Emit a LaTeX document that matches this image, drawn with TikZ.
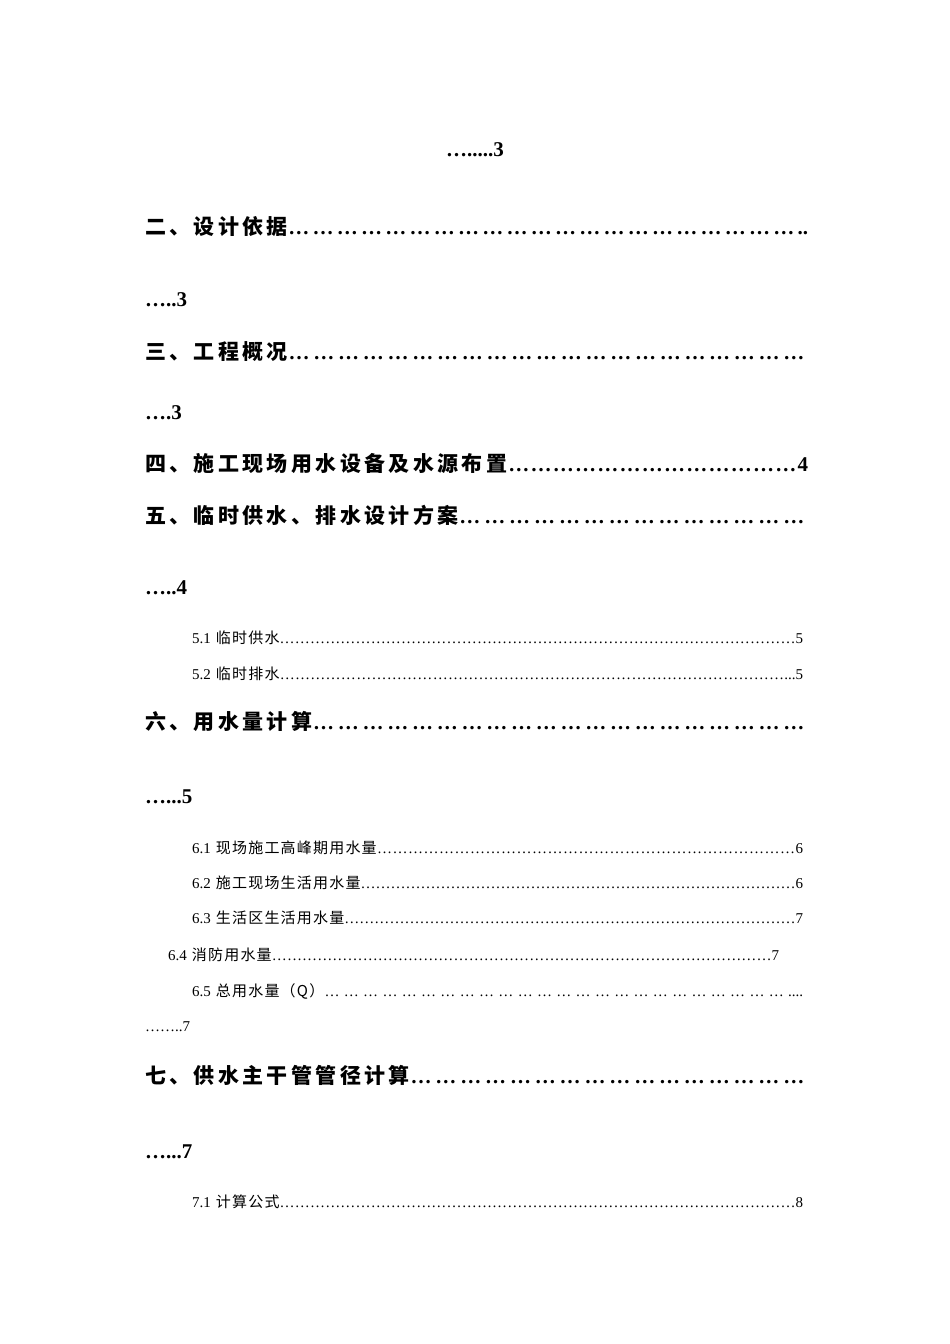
\documentclass[tikz,border=0pt]{standalone}
\usepackage{fontspec}
\setmainfont{Liberation Serif}
\newfontfamily\cjk{Noto Sans CJK SC}[LetterSpace=8]
\newfontfamily\cjkh{Noto Sans CJK SC}[LetterSpace=16]
\begin{document}
\begin{tikzpicture}[x=1pt,y=-1pt,
  big/.style={anchor=west,inner sep=0pt,font=\fontsize{21}{24}\selectfont\bfseries,text width=663pt,align=left},
  small/.style={anchor=west,inner sep=0pt,font=\fontsize{15}{18}\selectfont,align=left},
  cont/.style={anchor=west,inner sep=0pt,font=\fontsize{21}{24}\selectfont\bfseries}]
\useasboundingbox (0,0) rectangle (950,1344);
\newcommand\lead{\xleaders\hbox{…}\hfill}
\newcommand\wideleads{\xleaders\hbox{…\kern3pt}\hfill}
\node[cont,anchor=center] (c1) at (475,150) {….....3};
\node[big] (h2) at (145,226) {{\cjkh\bfseries 二、设计依据}\wideleads..\null};
\node[cont] (c2) at (145,300) {…..3};
\node[big] (h3) at (145,352) {{\cjkh\bfseries 三、工程概况}\wideleads\null};
\node[cont] (c3) at (145,413) {….3};
\node[big] (h4) at (145,464) {{\cjkh\bfseries 四、施工现场用水设备及水源布置}\lead 4};
\node[big] (h5) at (145,515) {{\cjkh\bfseries 五、临时供水、排水设计方案}\wideleads\null};
\node[cont] (c5) at (145,588) {…..4};
\node[small,text width=611pt] (s51) at (192,638) {5.1 {\cjk 临时供水}\lead 5};
\node[small,text width=611pt] (s52) at (192,674) {5.2 {\cjk 临时排水}\lead ...5};
\node[big] (h6) at (145,721) {{\cjkh\bfseries 六、用水量计算}\wideleads\null};
\node[cont] (c6) at (145,797) {…...5};
\node[small,text width=611pt] (s61) at (192,848) {6.1 {\cjk 现场施工高峰期用水量}\lead 6};
\node[small,text width=611pt] (s62) at (192,883) {6.2 {\cjk 施工现场生活用水量}\lead 6};
\node[small,text width=611pt] (s63) at (192,918) {6.3 {\cjk 生活区生活用水量}\lead 7};
\node[small,text width=611pt] (s64) at (168,955) {6.4 {\cjk 消防用水量}\lead 7};
\node[small,text width=611pt] (s65) at (192,991) {6.5 {\cjk 总用水量（Q）}\xleaders\hbox{…\kern4pt}\hfill ....};
\node[small] (c65) at (145,1027) {……..7};
\node[big] (h7) at (145,1075) {{\cjkh\bfseries 七、供水主干管管径计算}\wideleads\null};
\node[cont] (c7) at (145,1152) {…...7};
\node[small,text width=611pt] (s71) at (192,1202) {7.1 {\cjk 计算公式}\lead 8};
\end{tikzpicture}
\end{document}
